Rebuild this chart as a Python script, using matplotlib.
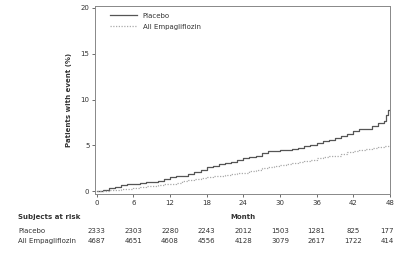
import numpy as np
import matplotlib.pyplot as plt

months = list(range(0, 48)) + [47.4, 47.7, 48]
placebo = [0, 0.15, 0.35, 0.5, 0.65, 0.75, 0.85, 0.95, 1.0, 1.05, 1.1, 1.3,
           1.55, 1.65, 1.7, 1.85, 2.1, 2.35, 2.6, 2.8, 2.95, 3.05, 3.25, 3.45,
           3.6, 3.7, 3.9, 4.2, 4.35, 4.45, 4.5, 4.55, 4.6, 4.75, 4.95, 5.1,
           5.3, 5.45, 5.6, 5.8, 6.0, 6.3, 6.6, 6.75, 6.8, 7.1, 7.5, 7.7,
           8.3, 8.9, 8.9]

months_empa = list(range(0, 49))
empa = [0, 0.05, 0.1, 0.15, 0.2, 0.28, 0.35, 0.45, 0.55, 0.62, 0.7, 0.78,
        0.85, 0.95, 1.1, 1.25, 1.35, 1.45, 1.55, 1.62, 1.7, 1.8, 1.9, 1.95,
        2.05, 2.2, 2.35, 2.5, 2.65, 2.8, 2.9, 3.0, 3.1, 3.2, 3.3, 3.45,
        3.6, 3.7, 3.8, 3.9, 4.05, 4.25, 4.4, 4.5, 4.6, 4.7, 4.8, 4.9, 4.95]

risk_months = [0, 6, 12, 18, 24, 30, 36, 42, 48]
risk_placebo = [2333, 2303, 2280, 2243, 2012, 1503, 1281, 825, 177]
risk_empa = [4687, 4651, 4608, 4556, 4128, 3079, 2617, 1722, 414]

txt = "#333333"
fs = 5

fig = plt.figure(figsize=(4.04, 2.54), dpi=100)
ax = fig.add_axes([0.235, 0.236, 0.73, 0.74])

ax.plot(months, placebo, drawstyle="steps-post", color="#555555", lw=0.9, label="Placebo")
ax.plot(months_empa, empa, drawstyle="steps-post", color="#aaaaaa", lw=0.9,
        linestyle=(0, (1, 1.2)), label="All Empagliflozin")

ax.set_xlim(-0.3, 48)
ax.set_ylim(-0.3, 20.2)
ax.set_xticks(risk_months)
ax.set_yticks([0, 5, 10, 15, 20])
ax.tick_params(labelsize=fs, colors=txt, length=2, width=0.5, pad=2)
for s in ax.spines.values():
    s.set_color("#888888")
    s.set_linewidth(0.7)
ax.set_ylabel("Patients with event (%)", fontsize=fs, fontweight="bold", color=txt, labelpad=6)

leg = ax.legend(loc="upper left", bbox_to_anchor=(0.035, 0.99), fontsize=fs, frameon=False,
                handlelength=3.9, handletextpad=0.8, labelcolor=txt, borderaxespad=0.3,
                labelspacing=0.7)

# risk table
fig.text(18 / 404, 1 - 217 / 254, "Subjects at risk", fontsize=fs, fontweight="bold",
         color=txt, va="center")
fig.text(18 / 404, 1 - 231 / 254, "Placebo", fontsize=fs, color=txt, va="center")
fig.text(18 / 404, 1 - 241 / 254, "All Empagliflozin", fontsize=fs, color=txt, va="center")
ax.text(24, 1 - (217 - 6) / 188, "Month", transform=ax.get_xaxis_transform(),
        fontsize=fs, fontweight="bold", color=txt, ha="center", va="center")
for m, p, e in zip(risk_months, risk_placebo, risk_empa):
    ha = "right" if m == 48 else "center"
    xm = m + 0.6 if m == 48 else m
    ax.text(xm, 1 - (231 - 6) / 188, str(p), transform=ax.get_xaxis_transform(),
            fontsize=fs, color=txt, ha=ha, va="center")
    ax.text(xm, 1 - (241 - 6) / 188, str(e), transform=ax.get_xaxis_transform(),
            fontsize=fs, color=txt, ha=ha, va="center")

fig.savefig("out.png", dpi=100)
